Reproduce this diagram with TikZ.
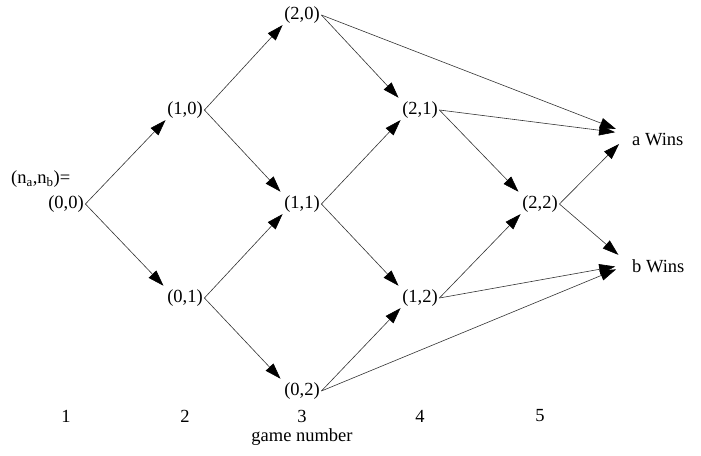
\documentclass[tikz,border=0pt]{standalone}
\usepackage{fontspec}
\setmainfont{Liberation Serif}
\usetikzlibrary{arrows.meta,calc}
\begin{document}
\begin{tikzpicture}[x=1pt,y=-1pt,
  state/.style={inner sep=1.5pt, font=\fontsize{18.5}{22}\selectfont},
  lab/.style={inner sep=0pt, font=\fontsize{18.5}{22}\selectfont},
  edge/.style={draw=black!80, line width=0.6pt,
    -{Triangle[length=16pt,width=10.5pt,color=black]}},
  down/.style={edge, shorten >=3pt},
  win/.style={edge, shorten >=14pt},
]
\useasboundingbox (0,0) rectangle (701,455);

% lattice of scores (n_a, n_b)
\node[state] (n00) at (66,204) {(0,0)};
\node[state] (n10) at (185,110) {(1,0)};
\node[state] (n01) at (185,298) {(0,1)};
\node[state] (n20) at (302,15) {(2,0)};
\node[state] (n11) at (302,204) {(1,1)};
\node[state] (n02) at (302,391) {(0,2)};
\node[state] (n21) at (420,110) {(2,1)};
\node[state] (n12) at (420,298) {(1,2)};
\node[state] (n22) at (540,204) {(2,2)};

\node[lab, anchor=west] (hdr) at (11,179) {(n\textsubscript{a},n\textsubscript{b})=};

% outcomes
\node[lab, anchor=west] (aw) at (632,140) {a Wins};
\node[lab, anchor=west] (bw) at (632,266) {b Wins};

% game numbers
\node[lab] (g1) at (66,416) {1};
\node[lab] (g2) at (185,416) {2};
\node[lab] (g3) at (302,416) {3};
\node[lab] (g4) at (420,416) {4};
\node[lab] (g5) at (540,416) {5};
\node[lab] (gn) at (302,437) {game number};

% transitions
\draw[edge] (n00.east) -- (n10.south west);
\draw[down] (n00.east) -- (n01.north west);
\draw[edge] (n10.east) -- (n20.south west);
\draw[down] (n10.east) -- (n11.north west);
\draw[edge] (n01.east) -- (n11.south west);
\draw[down] (n01.east) -- (n02.north west);
\draw[down] (n20.east) -- (n21.north west);
\draw[edge] (n11.east) -- (n21.south west);
\draw[down] (n11.east) -- (n12.north west);
\draw[edge] (n02.east) -- (n12.south west);
\draw[down] (n21.east) -- (n22.north west);
\draw[edge] (n12.east) -- (n22.south west);

\draw[win] (n20.east) -- ($(aw.west)+(-3,-6)$);
\draw[win] (n21.east) -- ($(aw.west)+(-3,-6)$);
\draw[win] (n22.east) -- ($(aw.west)+(-3,-6)$);
\draw[win] (n22.east) -- ($(bw.west)+(-3,-2)$);
\draw[win] (n12.east) -- ($(bw.west)+(-3,-2)$);
\draw[win] (n02.east) -- ($(bw.west)+(-3,-2)$);
\end{tikzpicture}
\end{document}
